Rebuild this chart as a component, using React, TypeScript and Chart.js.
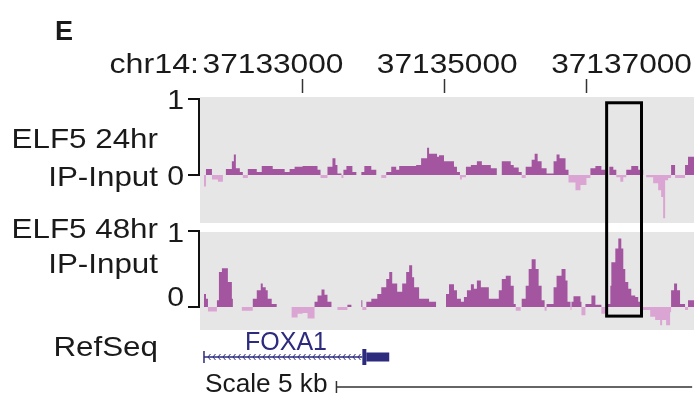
import { useEffect, useRef } from "react";
import { Chart, registerables } from "chart.js";

Chart.register(...registerables);

// ---------- data ----------
const PANEL_LETTER = "E";
const CHROM = "chr14:";
const VIEW_START = 37131572;
const VIEW_END = 37138516;
const AXIS_TICKS = [37133000, 37135000, 37137000];
const AXIS_TICK_LABELS = ["37133000", "37135000", "37137000"];

const TRACK_LABELS = [
  ["ELF5 24hr", "IP-Input"],
  ["ELF5 48hr", "IP-Input"],
];
const TRACK_AXIS_VALUES = [1, 0];
const TRACK_AXIS_LABELS = ["1", "0"];

const elf5_24hr_pos = [
  37131572, 37131628, 37131656, 37131740, 37131824, 37131894, 37131936, 37132020,
  37132048, 37132076, 37132132, 37132174, 37132244, 37132370, 37132440, 37132594,
  37132762, 37132832, 37132902, 37133014, 37133224, 37133266, 37133364, 37133434,
  37133476, 37133504, 37133560, 37133588, 37133630, 37133714, 37133770, 37133840,
  37133882, 37133980, 37134050, 37134120, 37134190, 37134260, 37134330, 37134372,
  37134610, 37134680, 37134764, 37134792, 37134904, 37134932, 37135002, 37135142,
  37135184, 37135226, 37135254, 37135310, 37135380, 37135464, 37135534, 37135660,
  37135744, 37135814, 37135940, 37135982, 37136052, 37136094, 37136150, 37136234,
  37136276, 37136318, 37136374, 37136444, 37136542, 37136584, 37136626, 37136710,
  37136752, 37136850, 37136920, 37137004, 37137060, 37137130, 37137214, 37137270,
  37137326, 37137382, 37137424, 37137480, 37137522, 37137564, 37137634, 37137732,
  37137802, 37137844, 37137942, 37138012, 37138054, 37138082, 37138110, 37138152,
  37138194, 37138250, 37138390, 37138432, 37138516,
];
const elf5_24hr_val = [
  0, -0.15, 0.08, -0.06, -0.09, 0, 0.08, 0.18,
  0.27, 0.09, 0.04, -0.04, 0.08, 0.04, 0.12, 0.08,
  0.04, 0.08, 0.11, 0.12, 0.07, -0.04, 0.11, 0.22,
  0.13, 0.02, -0.04, 0.07, 0.12, 0.04, 0, 0.04,
  0.12, 0.07, 0, -0.04, 0.04, 0.11, 0.07, 0.12,
  0.13, 0.22, 0.36, 0.28, 0.24, 0.26, 0.18, 0.11,
  0.04, -0.06, -0.03, 0.11, 0.13, 0.18, 0.13, 0.09,
  0, 0.18, 0.13, 0.1, 0.04, -0.04, 0.11, 0.2,
  0.28, 0.18, 0.09, 0.02, 0.18, 0.27, 0.22, 0.07,
  -0.1, -0.2, -0.13, -0.04, 0.09, 0.12, 0.07, 0,
  0.11, 0.07, -0.03, -0.09, -0.03, 0.07, 0.12, 0.07,
  0, -0.03, -0.11, -0.2, -0.29, -0.57, -0.07, -0.04,
  0.13, -0.04, 0.13, 0.24, 0.24,
];

const elf5_48hr_pos = [
  37131572, 37131628, 37131656, 37131684, 37131810, 37131838, 37131880, 37131964,
  37132020, 37132034, 37132160, 37132314, 37132370, 37132426, 37132454, 37132496,
  37132524, 37132580, 37132650, 37132860, 37132944, 37133014, 37133084, 37133182,
  37133224, 37133280, 37133322, 37133364, 37133420, 37133504, 37133644, 37133700,
  37133840, 37133854, 37133910, 37133980, 37134064, 37134120, 37134190, 37134232,
  37134274, 37134344, 37134414, 37134470, 37134512, 37134554, 37134582, 37134652,
  37134750, 37134792, 37134890, 37135030, 37135072, 37135142, 37135184, 37135240,
  37135282, 37135324, 37135380, 37135422, 37135464, 37135520, 37135632, 37135772,
  37135814, 37135870, 37135940, 37135982, 37136010, 37136080, 37136094, 37136150,
  37136192, 37136234, 37136290, 37136332, 37136374, 37136416, 37136444, 37136542,
  37136584, 37136654, 37136710, 37136738, 37136780, 37136794, 37136822, 37136920,
  37136934, 37136990, 37137074, 37137130, 37137214, 37137270, 37137284, 37137340,
  37137354, 37137410, 37137452, 37137494, 37137522, 37137550, 37137592, 37137634,
  37137690, 37137732, 37137760, 37137900, 37137970, 37138040, 37138068, 37138124,
  37138180, 37138194, 37138236, 37138278, 37138320, 37138390, 37138432, 37138516,
];
const elf5_48hr_val = [
  0, 0.17, 0.11, -0.06, 0.09, 0.46, 0.51, 0.33,
  0.11, 0, -0.05, 0.11, 0.22, 0.31, 0.26, 0.22,
  0.11, 0.04, 0, -0.14, -0.09, -0.08, -0.15, 0.07,
  0.15, 0.23, 0.16, 0.07, 0, -0.04, 0.03, 0,
  0.09, -0.04, 0.07, 0.11, 0.17, 0.26, 0.37, 0.46,
  0.31, 0.2, 0.31, 0.46, 0.55, 0.39, 0.26, 0.11,
  0.11, 0.07, 0, 0.17, 0.3, 0.22, 0.11, 0.07,
  0.13, 0.22, 0.3, 0.24, 0.35, 0.26, 0.11, 0.22,
  0.37, 0.41, 0.28, 0.04, -0.05, 0, 0.11, 0.28,
  0.5, 0.63, 0.5, 0.28, 0.09, -0.05, 0.04, 0.26,
  0.41, 0.5, 0.35, 0.07, -0.04, 0.07, 0.14, 0.07,
  -0.11, 0.04, 0.15, 0.03, -0.09, -0.13, 0.04, 0.28,
  0.59, 0.77, 0.9, 0.77, 0.5, 0.33, 0.24, 0.15,
  0.13, 0.07, -0.04, -0.13, -0.17, -0.24, -0.17, -0.24,
  -0.07, 0.22, 0.31, 0.22, 0.04, -0.04, 0.09, 0.09,
];

const REFSEQ_LABEL = "RefSeq";
const GENE_NAME = "FOXA1";
const GENE_START = 37131628;
const GENE_END = 37134232;
const GENE_CDS = [37133854, 37133910];
const HIGHLIGHT_BP = [37137288, 37137778];
const HIGHLIGHT_TOP_VALUE = 0.95;
const HIGHLIGHT_BOTTOM_VALUE = -0.12;
const SCALE_LABEL = "Scale 5 kb";
const SCALE_BAR_START = 37133490;
const SCALE_BAR_BP = 5000;

// ---------- styles ----------
const FONT = "'Liberation Sans', Arial, Helvetica, sans-serif";
const POS_COLOR = "#a3569f";
const NEG_COLOR = "#dba5d3";
const TRACK_BG = "#e6e6e6";
const TEXT = "#1a1a1a";
const GENE_COLOR = "#2c2b7d";
const TICK_LABEL_SHIFT = [-99, -67, -35];
const AXIS_LABEL_DY = [
  [10, 10],
  [11, -1],
];

function drawText(
  ctx: CanvasRenderingContext2D,
  text: string,
  x: number,
  y: number,
  size: number,
  opts: { align?: CanvasTextAlign; color?: string; sx?: number; weight?: string } = {}
) {
  const { align = "left", color = TEXT, sx = 1.12, weight = "normal" } = opts;
  ctx.save();
  ctx.translate(x, y);
  ctx.scale(sx, 1);
  ctx.font = `${weight} ${size}px ${FONT}`;
  ctx.fillStyle = color;
  ctx.textAlign = align;
  ctx.textBaseline = "alphabetic";
  ctx.fillText(text, 0, 0);
  ctx.restore();
}

const overlay = {
  id: "browserOverlay",
  beforeDatasetsDraw(chart: any) {
    const { ctx, chartArea, scales } = chart;
    const w = chartArea.right - chartArea.left;
    ctx.save();
    ctx.fillStyle = TRACK_BG;
    ctx.fillRect(chartArea.left, scales.y1.top, w, scales.y1.bottom - scales.y1.top - 4);
    ctx.fillRect(chartArea.left, scales.y2.top + 5, w, scales.y2.bottom - scales.y2.top - 5);
    ctx.restore();
  },
  afterDraw(chart: any) {
    const { ctx, chartArea, scales } = chart;
    const x = scales.x;
    const left = chartArea.left;

    // panel letter + coordinate header
    drawText(ctx, PANEL_LETTER, 55, 40, 27, { weight: "bold", sx: 1.0 });
    drawText(ctx, CHROM, 199, 73, 28, { align: "right", sx: 1.15 });
    AXIS_TICKS.forEach((t, i) => {
      const px = x.getPixelForValue(t);
      drawText(ctx, AXIS_TICK_LABELS[i], px + TICK_LABEL_SHIFT[i], 73, 28, { sx: 1.13 });
      ctx.save();
      ctx.strokeStyle = "#333";
      ctx.lineWidth = 1.5;
      ctx.beginPath();
      ctx.moveTo(Math.round(px) + 0.5, 79);
      ctx.lineTo(Math.round(px) + 0.5, 93);
      ctx.stroke();
      ctx.restore();
    });

    // track labels and brackets
    [scales.y1, scales.y2].forEach((ys: any, ti: number) => {
      const p1 = ys.getPixelForValue(TRACK_AXIS_VALUES[0]);
      const p0 = ys.getPixelForValue(TRACK_AXIS_VALUES[1]);
      ctx.save();
      ctx.strokeStyle = "#111";
      ctx.lineWidth = 2;
      ctx.beginPath();
      ctx.moveTo(188, p1);
      ctx.lineTo(left - 1, p1);
      ctx.lineTo(left - 1, p0);
      ctx.lineTo(188, p0);
      ctx.stroke();
      ctx.restore();
      TRACK_AXIS_LABELS.forEach((lab, li) => {
        const py = ys.getPixelForValue(TRACK_AXIS_VALUES[li]);
        drawText(ctx, lab, 184, py + AXIS_LABEL_DY[ti][li], 27, { align: "right" });
      });
    });
    drawText(ctx, TRACK_LABELS[0][0], 158, 148, 28, { align: "right" });
    drawText(ctx, TRACK_LABELS[0][1], 158, 186, 28, { align: "right" });
    drawText(ctx, TRACK_LABELS[1][0], 158, 238, 28, { align: "right" });
    drawText(ctx, TRACK_LABELS[1][1], 158, 273, 28, { align: "right" });
    drawText(ctx, REFSEQ_LABEL, 158, 356, 28, { align: "right" });

    // gene model
    const gs = x.getPixelForValue(GENE_START);
    const ge = x.getPixelForValue(GENE_END);
    const cs = x.getPixelForValue(GENE_CDS[0]);
    const ce = x.getPixelForValue(GENE_CDS[1]);
    const gy = 357;
    ctx.save();
    ctx.strokeStyle = GENE_COLOR;
    ctx.fillStyle = GENE_COLOR;
    ctx.lineWidth = 1.5;
    ctx.beginPath();
    ctx.moveTo(gs, gy);
    ctx.lineTo(cs, gy);
    ctx.moveTo(gs, gy - 6);
    ctx.lineTo(gs, gy + 6);
    ctx.stroke();
    ctx.lineWidth = 1;
    ctx.beginPath();
    for (let hx = gs + 5; hx < cs - 3; hx += 5) {
      ctx.moveTo(hx + 1.5, gy - 3);
      ctx.lineTo(hx - 1, gy);
      ctx.lineTo(hx + 1.5, gy + 3);
    }
    ctx.stroke();
    ctx.fillRect(cs, gy - 8, ce - cs, 16);
    ctx.fillRect(ce, gy - 4.5, ge - ce, 9);
    ctx.restore();
    drawText(ctx, GENE_NAME, gs + 41, 350, 25, { color: GENE_COLOR, sx: 1.0 });

    // scale bar
    const sb0 = x.getPixelForValue(SCALE_BAR_START);
    const sb1 = x.getPixelForValue(SCALE_BAR_START + SCALE_BAR_BP);
    drawText(ctx, SCALE_LABEL, 205, 392, 25, { sx: 1.05 });
    ctx.save();
    ctx.strokeStyle = "#333";
    ctx.lineWidth = 1.5;
    ctx.beginPath();
    ctx.moveTo(sb0, 381);
    ctx.lineTo(sb0, 393);
    ctx.moveTo(sb0, 387);
    ctx.lineTo(sb1, 387);
    ctx.stroke();
    ctx.restore();

    // highlight box
    const hx0 = x.getPixelForValue(HIGHLIGHT_BP[0]);
    const hx1 = x.getPixelForValue(HIGHLIGHT_BP[1]);
    const hy0 = scales.y1.getPixelForValue(HIGHLIGHT_TOP_VALUE);
    const hy1 = scales.y2.getPixelForValue(HIGHLIGHT_BOTTOM_VALUE);
    ctx.save();
    ctx.strokeStyle = "#000";
    ctx.lineWidth = 3;
    ctx.strokeRect(hx0, hy0, hx1 - hx0, hy1 - hy0);
    ctx.restore();
  },
};

function toPoints(pos: number[], val: number[]) {
  return pos.map((p, i) => ({ x: p, y: val[i] }));
}

export default function App() {
  const ref = useRef<HTMLCanvasElement | null>(null);
  useEffect(() => {
    if (!ref.current) return;
    const trackStyle = {
      stepped: "before" as const,
      fill: { target: "origin", above: POS_COLOR, below: NEG_COLOR },
      borderWidth: 0,
      borderColor: "rgba(0,0,0,0)",
      backgroundColor: POS_COLOR,
      pointRadius: 0,
    };
    const chart = new Chart(ref.current, {
      type: "line",
      data: {
        datasets: [
          { label: "ELF5 24hr IP-Input", data: toPoints(elf5_24hr_pos, elf5_24hr_val), yAxisID: "y1", ...trackStyle },
          { label: "ELF5 48hr IP-Input", data: toPoints(elf5_48hr_pos, elf5_48hr_val), yAxisID: "y2", ...trackStyle },
        ],
      } as any,
      options: {
        animation: false,
        responsive: false,
        devicePixelRatio: 1,
        layout: { padding: { left: 200, right: 0, top: 97, bottom: 64 } },
        plugins: { legend: { display: false }, tooltip: { enabled: false } },
        scales: {
          x: { type: "linear", min: VIEW_START, max: VIEW_END, display: false },
          y1: { type: "linear", position: "left", stack: "tracks", stackWeight: 130, weight: 2, min: -0.684, max: 1.026, display: false },
          y2: { type: "linear", position: "left", stack: "tracks", stackWeight: 103, weight: 1, min: -0.303, max: 1.053, display: false },
        },
      } as any,
      plugins: [overlay],
    });
    return () => chart.destroy();
  }, []);
  return (
    <div style={{ position: "fixed", left: 0, top: 0, width: 694, height: 394, background: "#fff" }}>
      <canvas ref={ref} width={694} height={394} style={{ display: "block", width: 694, height: 394 }} />
    </div>
  );
}
